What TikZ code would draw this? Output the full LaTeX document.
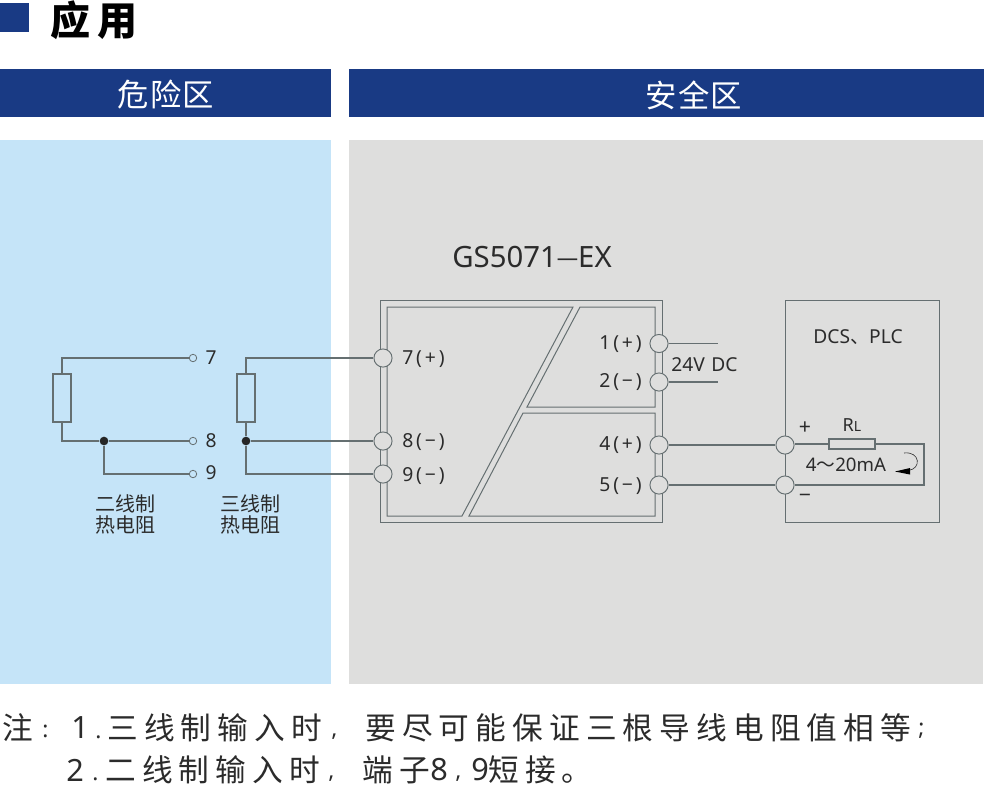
\documentclass[tikz,border=0pt]{standalone}
\usepackage{fontspec}
\setmainfont{Noto Sans}
\newfontfamily\cjk{Noto Sans CJK SC}
\newfontfamily\cjkhdr[LetterSpace=4]{Noto Sans CJK SC}
\newfontfamily\cjknote[LetterSpace=20]{Noto Sans CJK SC}
\newfontfamily\latlab[LetterSpace=15]{Noto Sans}
\definecolor{navy}{HTML}{193A84}
\definecolor{panelblue}{HTML}{C5E4F8}
\definecolor{panelgray}{HTML}{DEDEDD}
\definecolor{wire}{HTML}{656F71}
\definecolor{ink}{HTML}{2B2B2B}
\tikzset{
  headbox/.style={fill=navy,draw=none},
  wireline/.style={draw=wire,line width=0.8pt},
  modline/.style={draw=wire,line width=0.75pt},
  termbig/.style={circle,draw=wire,line width=0.7pt,minimum size=13.6pt,inner sep=0pt},
  termsmall/.style={circle,draw=wire,line width=0.6pt,fill=panelblue,minimum size=5.6pt,inner sep=0pt},
  junction/.style={circle,fill=black!85,minimum size=6.5pt,inner sep=0pt},
  res/.style={draw=wire,line width=0.8pt},
  lab/.style={text=ink,inner sep=0pt,font=\fontsize{14.4}{15}\selectfont},
  modlab/.style={text=ink,inner sep=0pt,font=\fontsize{14.5}{15}\latlab},
  hdr/.style={text=white,inner sep=0pt,font=\fontsize{23.5}{25}\cjkhdr},
  captext/.style={text=ink,inner sep=0pt,align=center,font=\fontsize{15}{15.75}\cjk},
  notecjk/.style={text=ink,inner sep=0pt,anchor=west,font=\fontsize{23}{25}\cjknote},
  notelat/.style={text=ink,inner sep=0pt,anchor=west,font=\fontsize{23}{25}\selectfont},
  notemark/.style={text=ink,inner sep=0pt,anchor=west,font=\fontsize{17}{20}\selectfont}
}
\begin{document}
\begin{tikzpicture}[x=0.75pt,y=-0.75pt]
\useasboundingbox (0,0) rectangle (984,794);
\fill[white] (0,0) rectangle (984,794);
% title
\fill[navy] (0,3) rectangle (29,32);
\node[text=black,inner sep=0pt,anchor=center,font=\fontsize{30}{32}\cjk\bfseries] (title) at (94,20) {应\,用};
% headers
\path[headbox] (0,69) rectangle (331,117);
\path[headbox] (349,69) rectangle (984,117);
\node[hdr] (hl) at (166,95) {危险区};
\node[hdr] (hr) at (694,95) {安全区};
% panels
\fill[panelblue] (0,140) rectangle (331,684);
\fill[panelgray] (349,140) rectangle (983,684);
% title of module
\node[lab,font=\fontsize{22}{23}\selectfont] (gs) at (532,257) {GS5071\raisebox{1.6pt}{\fontsize{16}{16}\selectfont —}EX};
% module outlines
\draw[modline] (380,300) rectangle (662,522);
\draw[modline] (387,307) -- (573,307) -- (462,516) -- (387,516) -- cycle;
\draw[modline] (580,307) -- (655,307) -- (655,407) -- (527,407) -- cycle;
\draw[modline] (523,413) -- (655,413) -- (655,516) -- (469,516) -- cycle;
% DCS box
\draw[modline] (785,300) rectangle (939,522);
% terminals module
\node[termbig,fill=panelgray] (t7) at (383,358) {};
\node[termbig,fill=panelgray] (t8) at (383,441) {};
\node[termbig,fill=panelgray] (t9) at (383,474) {};
\node[termbig,fill=panelgray] (t1) at (659,343.5) {};
\node[termbig,fill=panelgray] (t2) at (659,382) {};
\node[termbig,fill=panelgray] (t4) at (659,445) {};
\node[termbig,fill=panelgray] (t5) at (659,485) {};
\node[termbig,fill=panelgray] (d4) at (785,445) {};
\node[termbig,fill=panelgray] (d5) at (785,485) {};
% labels module
\node[modlab,anchor=west] (l7) at (402,359) {7(+)};
\node[modlab,anchor=west] (l8) at (402,442) {8(−)};
\node[modlab,anchor=west] (l9) at (402,476) {9(−)};
\node[modlab,anchor=east] (l1) at (642,344) {1(+)};
\node[modlab,anchor=east] (l2) at (642,382) {2(−)};
\node[modlab,anchor=east] (l4) at (642,445) {4(+)};
\node[modlab,anchor=east] (l5) at (642,486) {5(−)};
% supply
\coordinate (s1) at (718,343.5);
\coordinate (s2) at (718,382);
\draw[wireline] (t1) -- (s1);
\draw[wireline] (t2) -- (s2);
\node[lab] (v24) at (704.5,365) {24V\,\,DC};
% loop
\draw[wireline] (t4) -- (d4);
\draw[wireline] (t5) -- (d5);
\node[res,draw,fill=panelgray,inner sep=0pt,minimum width=34.5pt,minimum height=7.5pt] (rl) at (852,444) {};
\coordinate (cr) at (924,444);
\coordinate (cb) at (924,485);
\draw[wireline] (d4.east |- rl) -- (rl);
\draw[wireline] (rl) -- (cr) -- (cb) -- (d5);
\node[lab] (dcs) at (858,337) {DCS{\cjk 、}PLC};
\node[lab,font=\fontsize{13.5}{14}\selectfont] (rll) at (852,425) {R{\fontsize{10.5}{11}\selectfont L}};
\node[lab,font=\fontsize{16}{16}\selectfont] (plus) at (805,428) {+};
\node[lab,font=\fontsize{16}{16}\selectfont] (minus) at (805,498) {−};
\node[lab,font=\fontsize{14}{15}\selectfont] (ma) at (846,465) {4{\cjk ～}20mA};
\draw[draw=ink,line width=0.45pt] (904,453) .. controls (920,451) and (922,469) .. (908,470.5);
\fill[black] (895,471.5) -- (910,468) -- (910,474.5) -- cycle;
% hazard side, two-wire
\node[termsmall] (a7) at (193,358) {};
\node[termsmall] (a8) at (193,441) {};
\node[termsmall] (a9) at (193,474) {};
\node[res,draw,fill=panelblue,inner sep=0pt,minimum width=13.5pt,minimum height=36pt] (ra) at (62,398) {};
\node[junction] (ja) at (104,441) {};
\coordinate (ca1) at (62,358);
\coordinate (ca2) at (62,441);
\coordinate (ca3) at (104,474);
\draw[wireline] (a7) -- (ca1) -- (ra);
\draw[wireline] (ra) -- (ca2) -- (ja) -- (a8);
\draw[wireline] (ja) -- (ca3) -- (a9);
\node[lab] (n7) at (211,358) {7};
\node[lab] (n8) at (211,441) {8};
\node[lab] (n9) at (211,473) {9};
% three-wire
\node[res,draw,fill=panelblue,inner sep=0pt,minimum width=13.5pt,minimum height=36pt] (rb) at (246,398) {};
\node[junction] (jb) at (246,441) {};
\coordinate (cb1) at (246,358);
\coordinate (cb3) at (246,474);
\draw[wireline] (t7) -- (cb1) -- (rb);
\draw[wireline] (rb) -- (jb) -- (t8);
\draw[wireline] (jb) -- (cb3) -- (t9);
\node[captext] (c2) at (125.5,514.5) {二线制\\热电阻};
\node[captext] (c3) at (250.5,514.5) {三线制\\热电阻};
% notes
\node[notecjk] (n1a) at (2,728) {注};
\node[notemark] (n1a2) at (42,731) {:};
\node[notelat] (n1b) at (71,728) {1};
\node[notemark] (n1b2) at (95,737) {.};
\node[notecjk] (n1c) at (107,728) {三线制输入时};
\node[notemark] (n1c2) at (331,737) {,};
\node[notecjk] (n1d) at (365,728) {要尽可能保证三根导线电阻值相等};
\node[notemark] (n1d2) at (918,731) {;};
\node[notelat] (n2b) at (66,770) {2};
\node[notemark] (n2b2) at (92,779) {.};
\node[notecjk] (n2c) at (105,770) {二线制输入时};
\node[notemark] (n2c2) at (328,779) {,};
\node[notecjk] (n2d) at (362,770) {端子};
\node[notelat] (n2e) at (430,770) {8};
\node[notemark] (n2e2) at (455,779) {,};
\node[notelat] (n2e3) at (471,770) {9};
\node[notecjk] (n2f) at (488,770) {短接。};
\end{tikzpicture}
\end{document}
